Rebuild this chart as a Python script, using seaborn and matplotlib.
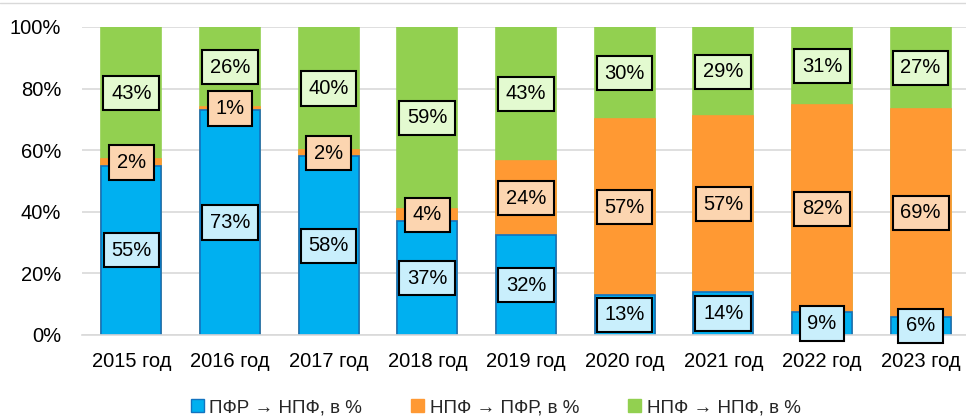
import numpy as np
import pandas as pd
import matplotlib
matplotlib.use("Agg")
import matplotlib.pyplot as plt
import seaborn as sns
from matplotlib.patches import Patch

years = ["2015 год", "2016 год", "2017 год", "2018 год", "2019 год",
         "2020 год", "2021 год", "2022 год", "2023 год"]
pfr_npf = [55, 73, 58, 37, 32, 13, 14, 9, 6]
npf_pfr = [2, 1, 2, 4, 24, 57, 57, 82, 69]
npf_npf = [43, 26, 40, 59, 43, 30, 29, 31, 27]
series_names = ["ПФР → НПФ, в %", "НПФ → ПФР, в %", "НПФ → НПФ, в %"]

colors = ["#00B0F0", "#FF9933", "#92D050"]
edge_colors = ["#1273C0", "#FF9933", "#92D050"]
box_colors = ["#C9EFFC", "#FCD5B0", "#E3FAD0"]

sns.set_style("white")
plt.rcParams["font.family"] = ["Liberation Sans", "DejaVu Sans"]

# bars are scaled to 100% of the sum, labels show raw values
raw = np.array([pfr_npf, npf_pfr, npf_npf], dtype=float)
share = raw / raw.sum(axis=0) * 100
cum = np.cumsum(share, axis=0)

df = pd.DataFrame({"year": years,
                   "s1": cum[0], "s2": cum[1], "s3": cum[2]})

fig = plt.figure(figsize=(9.66, 4.18), dpi=100)
ax = fig.add_axes([82 / 966, 1 - 335 / 418, 1 - 82 / 966, (335 - 27) / 418])

# draw from the top layer down so lower layers cover upper ones
for col, c, ec in zip(["s3", "s2", "s1"], colors[::-1], edge_colors[::-1]):
    sns.barplot(data=df, x="year", y=col, color=c, width=0.61,
                saturation=1, edgecolor=ec, linewidth=1.2, ax=ax)

for i in range(len(years)):
    bottom = 0
    for k in range(3):
        mid = bottom + share[k, i] / 2
        bottom += share[k, i]
        ax.text(i, mid, f"{int(raw[k, i])}%", ha="center", va="center",
                fontsize=14.5, color="black", zorder=5,
                bbox=dict(boxstyle="square,pad=0.38", fc=box_colors[k],
                          ec="black", lw=1.5))

ax.set_ylim(0, 100)
ax.set_xlim(-0.5, 8.46)
ax.set_yticks(range(0, 101, 20))
ax.set_yticklabels([f"{v}%" for v in range(0, 101, 20)])
ax.yaxis.grid(True, color="#D9D9D9", lw=1.2)
ax.set_axisbelow(True)
ax.set_xlabel("")
ax.set_ylabel("")
for s in ["top", "right", "left"]:
    ax.spines[s].set_visible(False)
ax.spines["bottom"].set_color("#D9D9D9")
ax.spines["bottom"].set_linewidth(1.2)
ax.tick_params(axis="both", length=0, labelsize=14.5, colors="black")
ax.tick_params(axis="x", pad=12)
ax.tick_params(axis="y", pad=15)

fig.add_artist(plt.Line2D([0, 1], [1 - 3 / 418, 1 - 3 / 418],
                          color="#D9D9D9", lw=1, transform=fig.transFigure))

handles = [Patch(facecolor=c, edgecolor=ec, label=n)
           for c, ec, n in zip(colors, edge_colors, series_names)]
fig.legend(handles=handles, loc="center", bbox_to_anchor=(0.513, 0.025),
           ncol=3, frameon=False, fontsize=13.5, handlelength=0.7,
           handleheight=0.7, handletextpad=0.3, columnspacing=2.6)

fig.savefig("out.png", dpi=100)
